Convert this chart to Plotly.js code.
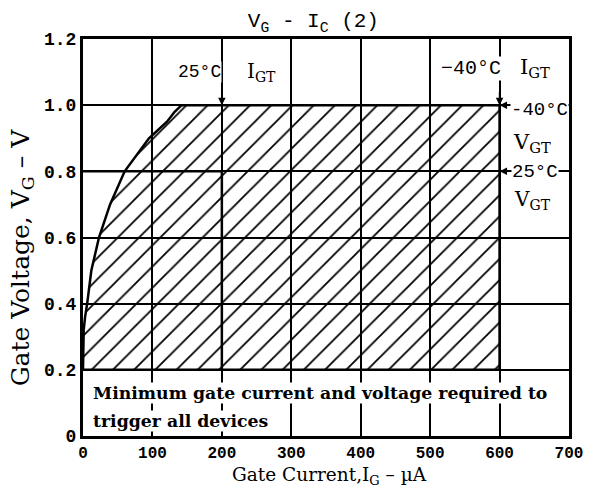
<!DOCTYPE html>
<html>
<head>
<meta charset="utf-8">
<script src="https://cdn.plot.ly/plotly-3.0.1.min.js"></script>
<style>html,body{margin:0;padding:0;background:#fff;}#chart{width:593px;height:488px;}</style>
</head>
<body>
<div id="chart"></div>
<script>
// Boundary curve of the minimum trigger region (Gate current µA, Gate voltage V)
const curveCurrent = [0, 0, 1, 3, 6, 12, 23, 39, 60, 95, 121, 132, 142];
const curveVoltage = [0.2, 0.3, 0.32, 0.36, 0.4, 0.5, 0.6, 0.7, 0.8, 0.9, 0.95, 0.98, 1.0];
// -40°C trigger limits
const igtMinus40 = 600;
const vgtMinus40 = 1.0;
// 25°C trigger limits
const igt25 = 200;
const vgt25 = 0.8;
// lower voltage bound of the shaded region
const vBase = 0.2;
// axis ticks
const xTickVals = [0, 100, 200, 300, 400, 500, 600, 700];
const xTickText = ['0', '100', '200', '300', '400', '500', '600', '700'];
const yTickVals = [0, 0.2, 0.4, 0.6, 0.8, 1.0, 1.2];
const yTickText = ['0', '0.2', '0.4', '0.6', '0.8', '1.0', '1.2'];

const regionX = curveCurrent.concat([igtMinus40, igtMinus40, 0]);
const regionY = curveVoltage.concat([vgtMinus40, vBase, vBase]);

const clear = 'rgba(0,0,0,0)';
const traces = [
  {
    type: 'scatter', mode: 'lines', x: regionX, y: regionY,
    fill: 'toself', fillcolor: clear,
    fillpattern: {shape: '/', size: 15, solidity: 0.12, fgcolor: '#000000', fgopacity: 1, bgcolor: clear, fillmode: 'overlay'},
    line: {color: 'black', width: 2.5}, hoverinfo: 'skip', showlegend: false
  },
  {
    type: 'scatter', mode: 'lines',
    x: [0, igt25, igt25], y: [vgt25, vgt25, vBase],
    line: {color: 'black', width: 2.5}, hoverinfo: 'skip', showlegend: false
  }
];

function mono(size) { return {family: 'Liberation Mono', size: size, color: 'black'}; }
function serif(size) { return {family: 'DejaVu Serif', size: size, color: 'black'}; }

function arrow(x, y, ax, ay) {
  return {x: x, y: y, ax: ax, ay: ay, xref: 'x', yref: 'y', axref: 'x', ayref: 'y',
    text: '', showarrow: true, arrowhead: 2, arrowsize: 1, arrowwidth: 1.5, arrowcolor: 'black'};
}
function label(text, x, y, xanchor, font) {
  return {x: x, y: y, xref: 'x', yref: 'y', text: text, showarrow: false,
    xanchor: xanchor, yanchor: 'middle', font: font, bgcolor: 'white', borderpad: 0};
}

const annotations = [
  label('25°C', igt25, 1.1, 'right', mono(18)),
  label('I<sub>GT</sub>', 235, 1.1, 'left', serif(20)),
  label('−40°C', 604, 1.112, 'right', mono(20)),
  label('I<sub>GT</sub>', 628, 1.112, 'left', serif(21)),
  label('-40°C', 615, 0.985, 'left', mono(19)),
  label('V<sub>GT</sub>', 618, 0.885, 'left', serif(21)),
  label('25°C', 617, 0.797, 'left', mono(19)),
  label('V<sub>GT</sub>', 620, 0.712, 'left', serif(20)),
  arrow(igt25, vgt25 + 0.2, igt25, 1.055),
  arrow(igtMinus40, vgtMinus40, igtMinus40, 1.045),
  arrow(igtMinus40, vgtMinus40, 614, vgtMinus40),
  arrow(igtMinus40, vgt25, 614, vgt25),
  {x: 0.018, y: 0.13, xref: 'paper', yref: 'y', text: '<b>Minimum gate current and voltage required to</b>',
   showarrow: false, xanchor: 'left', yanchor: 'middle', font: serif(17.3), bgcolor: 'white', borderpad: 0},
  {x: 0.018, y: 0.045, xref: 'paper', yref: 'y', text: '<b>trigger all devices</b>',
   showarrow: false, xanchor: 'left', yanchor: 'middle', font: serif(17.3), bgcolor: 'white', borderpad: 0},
  {x: -0.1255, y: 0.45, xref: 'paper', yref: 'paper', text: 'Gate Voltage, V<sub>G</sub> – V', textangle: -90,
   showarrow: false, xanchor: 'center', yanchor: 'middle', font: serif(25)},
  {x: 0.508, y: -0.102, xref: 'paper', yref: 'paper', text: 'Gate Current,I<sub>G</sub> – µA',
   showarrow: false, xanchor: 'center', yanchor: 'middle', font: serif(18.5)}
];

const layout = {
  width: 593, height: 488,
  margin: {l: 83, r: 24, t: 39, b: 52},
  paper_bgcolor: 'white', plot_bgcolor: 'white',
  title: {text: 'V<sub>G</sub> - I<sub>C</sub> (2)', font: {family: 'Liberation Mono', size: 21, color: 'black'},
    x: 0.418, xref: 'container', y: 0.959, yref: 'container', xanchor: 'left', yanchor: 'middle'},
  xaxis: {
    range: [0, 700], tickvals: xTickVals, ticktext: xTickText,
    showgrid: true, gridcolor: 'black', gridwidth: 2, zeroline: false,
    showline: true, linecolor: 'black', linewidth: 3, mirror: true, ticks: '',
    tickfont: {family: 'Liberation Mono', size: 16, color: 'black', weight: 'bold'}
  },
  yaxis: {
    range: [0, 1.2], tickvals: yTickVals, ticktext: yTickText,
    showgrid: true, gridcolor: 'black', gridwidth: 2, zeroline: false,
    showline: true, linecolor: 'black', linewidth: 3, mirror: true, ticks: '',
    tickfont: {family: 'Liberation Mono', size: 18, color: 'black', weight: 'bold'}
  },
  annotations: annotations,
  showlegend: false
};

Plotly.newPlot('chart', traces, layout, {staticPlot: true, displayModeBar: false});
</script>
</body>
</html>
